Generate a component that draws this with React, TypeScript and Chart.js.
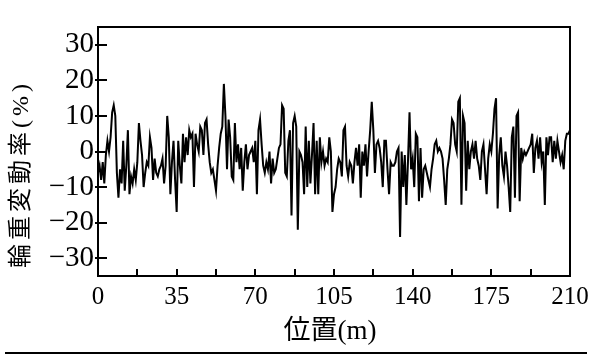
import { useEffect, useRef } from "react";
import { Chart, registerables } from "chart.js";

Chart.register(...registerables);

// sampling step along the track (m)
const STEP_M = 0.7;

// wheel load variation rate (%), in five stretches
const SEG_0_41 = [
  -6, -4, -8, -3, -9, -1, 3, 0, 4, 11, 13, 10, -6, -13, -5, -9, 3, -11, -4, 6,
  -12, -7, -9, -5, -8, -3, 8, 3, -1, -10, -6, -3, -4, 4, 1, -8, -2, -6, -7, -5,
  -4, -2, -9, -4, 10, 4, -12, -3, 3, -8, -17, 3, -4, -9, 5, -3, 4, -1,
];
const SEG_41_83 = [
  6, 4, 5, -10, 5, 2, 0, 7, 6, -1, 8, 9, 2, -3, -6, -5, -8, -11, -4, 1,
  5, 7, 19, 10, -5, 9, 4, -7, -8, 8, -3, 2, -5, 1, -11, -3, 2, -5, -1, 0,
  1, -3, 3, -12, 6, 9, 2, -4, -6, -3, -5, 0, -9, -2, -6, -5, -2, 1, 2, 13,
];
const SEG_83_124 = [
  12, -6, -7, 3, 6, -18, 8, 10, 7, -22, 0, -1, -3, -12, 7, -10, 3, -9, -1, 8,
  -12, 3, -12, 4, -3, 0, -4, -2, -3, 4, 0, -17, -12, -10, -5, -2, -3, -7, 6, 7,
  -4, -7, -3, -4, -9, -3, 1, -4, 2, -13, 0, -4, 2, -7, 0, 6, 14, 6, -6, 2,
];
const SEG_124_167 = [
  3, 1, -3, -10, 3, 3, -5, -12, -3, -4, -4, -3, 0, 1, -24, 0, -10, -1, -15, -3,
  11, -5, -2, -10, 5, 4, -14, 1, -13, -5, -4, -6, -8, -10, -5, -2, 2, 3, 0, 1,
  0, -2, -8, -15, -5, -2, 2, 9, 8, 2, 0, 14, 15, -15, 10, 8, -11, 3, -5, 0,
  2,
];
const SEG_167_210 = [
  -2, 3, -2, -4, -8, 0, 2, -5, -12, -2, 2, 0, 5, 12, 15, -16, -1, 4, -4, -7,
  0, -4, -10, -17, 4, 7, -13, 10, 11, -14, 1, -2, 0, -1, 0, 1, 2, 5, -6, 1,
  3, -2, 4, -3, 0, -15, 4, -1, 4, 4, -3, 3, -2, 3, 0, -3, -1, -5, 3, 5,
  5, 6,
];
const WHEEL_LOAD = [...SEG_0_41, ...SEG_41_83, ...SEG_83_124, ...SEG_124_167, ...SEG_167_210];

const X_TICKS = [0, 17.5, 35, 52.5, 70, 87.5, 105, 122.5, 140, 157.5, 175, 192.5, 210];
const X_LABELED = [0, 35, 70, 105, 140, 175, 210];
const Y_TICKS = [-30, -20, -10, 0, 10, 20, 30];
const X_TITLE = "位置(m)";
const Y_TITLE = "輪重変動率(%)";

const W = 595;
const H = 363;
const SERIF = "'Liberation Serif', 'Noto Sans CJK JP', serif";

const decor = {
  id: "decor",
  afterDraw(chart: any) {
    const { ctx, chartArea } = chart;
    const { left, right, top, bottom } = chartArea;
    const xs = chart.scales.x;
    const ys = chart.scales.y;
    ctx.save();
    ctx.strokeStyle = "#000";
    ctx.lineWidth = 2;
    ctx.strokeRect(left, top, right - left, bottom - top);
    X_TICKS.forEach((v) => {
      const px = Math.round(xs.getPixelForValue(v));
      ctx.beginPath();
      ctx.moveTo(px, bottom);
      ctx.lineTo(px, bottom - 7);
      ctx.stroke();
    });
    Y_TICKS.forEach((v) => {
      const py = Math.round(ys.getPixelForValue(v));
      ctx.beginPath();
      ctx.moveTo(left - 3, py);
      ctx.lineTo(left + 9, py);
      ctx.stroke();
    });
    ctx.fillStyle = "#000";
    ctx.textAlign = "center";
    ctx.textBaseline = "middle";
    ctx.font = "27px " + SERIF;
    ctx.fillText(X_TITLE, (left + right) / 2 - 4, 332);
    ctx.save();
    ctx.translate(22, 174);
    ctx.rotate(-Math.PI / 2);
    ctx.font = "24px " + SERIF;
    (ctx as any).letterSpacing = "4px";
    ctx.fillText(Y_TITLE, 0, 0);
    ctx.restore();
    ctx.beginPath();
    ctx.moveTo(5, 353);
    ctx.lineTo(587, 353);
    ctx.stroke();
    ctx.restore();
  },
};

export default function App() {
  const ref = useRef<HTMLCanvasElement | null>(null);
  useEffect(() => {
    document.body.style.margin = "0";
    const canvas = ref.current;
    if (!canvas) return;
    const points = WHEEL_LOAD.map((v, i) => ({ x: i * STEP_M, y: v }));
    const chart = new Chart(canvas, {
      type: "line",
      data: {
        datasets: [
          {
            data: points,
            borderColor: "#000",
            borderWidth: 2,
            pointRadius: 0,
            tension: 0,
            fill: false,
          },
        ],
      },
      options: {
        animation: false,
        responsive: false,
        events: [],
        layout: { padding: { top: 27, right: 25, left: 0, bottom: 0 } },
        plugins: { legend: { display: false }, tooltip: { enabled: false } },
        scales: {
          x: {
            type: "linear",
            min: 0,
            max: 210,
            afterBuildTicks: (s: any) => {
              s.ticks = X_TICKS.map((v) => ({ value: v }));
            },
            afterFit: (s: any) => {
              s.height = 87;
            },
            ticks: {
              autoSkip: false,
              maxRotation: 0,
              padding: 6,
              color: "#000",
              font: { family: SERIF, size: 25 },
              callback: (v: any) => (X_LABELED.includes(Number(v)) ? String(v) : ""),
            },
            grid: { display: false, drawTicks: false },
            border: { display: false },
          },
          y: {
            type: "linear",
            min: -35,
            max: 35,
            afterBuildTicks: (s: any) => {
              s.ticks = Y_TICKS.map((v) => ({ value: v }));
            },
            afterFit: (s: any) => {
              s.width = 98;
            },
            ticks: {
              padding: 4,
              color: "#000",
              font: { family: SERIF, size: 29 },
              callback: (v: any) => (Number(v) < 0 ? "\u2212" + Math.abs(Number(v)) : String(v)),
            },
            grid: { display: false, drawTicks: false },
            border: { display: false },
          },
        },
      },
      plugins: [decor],
    });
    return () => chart.destroy();
  }, []);
  return <canvas ref={ref} width={W} height={H} style={{ display: "block" }} />;
}
